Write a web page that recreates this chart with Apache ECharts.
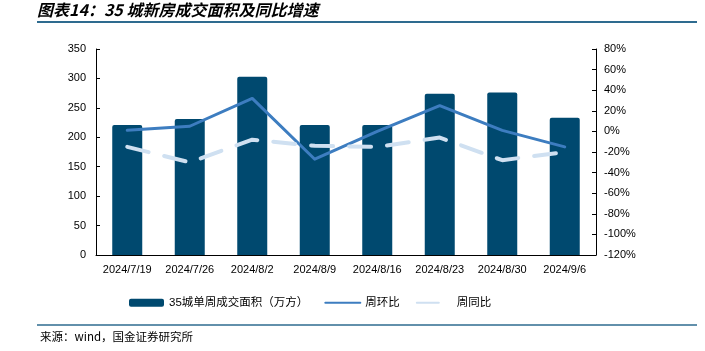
<!DOCTYPE html>
<html>
<head>
<meta charset="utf-8">
<script src="https://cdn.jsdelivr.net/npm/echarts@6/dist/echarts.min.js"></script>
<style>
  html, body { margin: 0; padding: 0; background: #fff; }
  #chart { width: 705px; height: 351px; }
</style>
</head>
<body>
<div id="chart"></div>
<script>
const weeks = ['2024/7/19', '2024/7/26', '2024/8/2', '2024/8/9', '2024/8/16', '2024/8/23', '2024/8/30', '2024/9/6'];
const area = [221, 231, 303, 221, 221, 274, 276, 233];
const wow = [1, 5, 32, -27, 0, 25, 1, -15];
const yoy = [-15, -30, -8, -14, -15, -6, -28, -20];
const leftTicks = [0, 350, 50];
const rightTicks = [-120, 80, 20];

const CJK = '"Liberation Sans", "Noto Sans CJK SC", sans-serif';
const AXIS_COLOR = '#000';

const chart = echarts.init(document.getElementById('chart'));

const option = {
  backgroundColor: '#fff',
  animation: false,
  grid: { left: 96, right: 109, top: 49, bottom: 96 },
  legend: {
    left: 124,
    top: 292,
    itemWidth: 35,
    itemHeight: 8,
    itemGap: 16,
    textStyle: { fontSize: 11.5, color: '#000', fontFamily: CJK },
    data: [
      { name: '35城单周成交面积（万方）', icon: 'roundRect' },
      { name: '周环比', itemStyle: { opacity: 0 } },
      { name: '周同比', itemStyle: { opacity: 0 } }
    ]
  },
  xAxis: {
    type: 'category',
    data: weeks,
    axisLine: { lineStyle: { color: AXIS_COLOR, width: 1 } },
    axisTick: { inside: true, length: 4, lineStyle: { color: AXIS_COLOR } },
    axisLabel: { color: '#000', fontSize: 11, margin: 9, interval: 0, fontFamily: CJK }
  },
  yAxis: [
    {
      type: 'value',
      min: leftTicks[0],
      max: leftTicks[1],
      interval: leftTicks[2],
      axisLine: { show: true, lineStyle: { color: AXIS_COLOR } },
      axisTick: { show: true, inside: true, length: 4, lineStyle: { color: AXIS_COLOR } },
      splitLine: { show: false },
      axisLabel: { color: '#000', fontSize: 11, margin: 10, fontFamily: CJK }
    },
    {
      type: 'value',
      min: rightTicks[0],
      max: rightTicks[1],
      interval: rightTicks[2],
      axisLine: { show: true, lineStyle: { color: AXIS_COLOR } },
      axisTick: { show: true, inside: true, length: 4, lineStyle: { color: AXIS_COLOR } },
      splitLine: { show: false },
      axisLabel: { color: '#000', fontSize: 11, margin: 8, formatter: '{value}%', fontFamily: CJK }
    }
  ],
  series: [
    {
      name: '35城单周成交面积（万方）',
      type: 'bar',
      barWidth: 30,
      itemStyle: { color: '#00496f', borderRadius: [2, 2, 0, 0] },
      data: area
    },
    {
      name: '周环比',
      type: 'line',
      yAxisIndex: 1,
      symbol: 'none',
      lineStyle: { color: '#3d7dc0', width: 3, cap: 'round', join: 'round' },
      itemStyle: { color: '#3d7dc0' },
      data: wow
    },
    {
      name: '周同比',
      type: 'line',
      yAxisIndex: 1,
      symbol: 'none',
      lineStyle: { color: '#cfe0f1', width: 4, type: [22, 16], cap: 'round', join: 'round' },
      itemStyle: { color: '#cfe0f1' },
      data: yoy
    }
  ],
  graphic: [
    {
      type: 'text',
      left: 37,
      top: 2,
      style: {
        text: '图表14：35 城新房成交面积及同比增速',
        fontSize: 16,
        fontWeight: 'bold',
        fontStyle: 'italic',
        fill: '#000',
        fontFamily: '"Noto Sans CJK SC", sans-serif'
      }
    },
    {
      type: 'line',
      shape: { x1: 37, y1: 22, x2: 697, y2: 22 },
      style: { stroke: '#2e6b8f', lineWidth: 2 }
    },
    {
      type: 'line',
      shape: { x1: 37, y1: 325, x2: 697, y2: 325 },
      style: { stroke: '#2e6b8f', lineWidth: 1.5 }
    },
    {
      type: 'text',
      left: 40,
      top: 331,
      style: {
        text: '来源：wind，国金证券研究所',
        fontSize: 11.5,
        fill: '#000',
        fontFamily: '"Noto Sans CJK SC", sans-serif'
      }
    }
  ]
};

chart.setOption(option);
window.addEventListener('resize', () => chart.resize());
</script>
</body>
</html>
